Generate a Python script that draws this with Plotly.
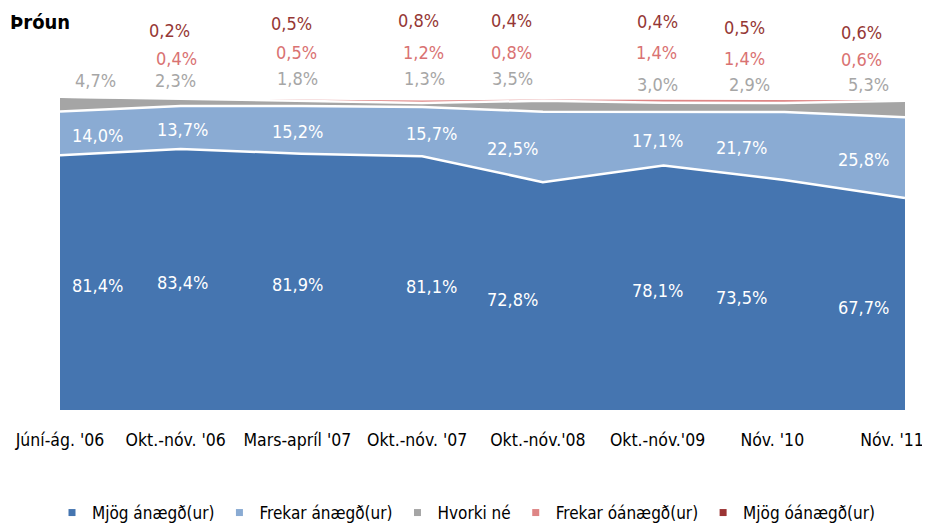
import plotly.graph_objects as go

categories = ["Júní-ág. '06", "Okt.-nóv. '06", "Mars-apríl '07", "Okt.-nóv. '07",
              "Okt.-nóv.'08", "Okt.-nóv.'09", "Nóv. '10", "Nóv. '11"]
mjog_anaegd = [81.4, 83.4, 81.9, 81.1, 72.8, 78.1, 73.5, 67.7]
frekar_anaegd = [14.0, 13.7, 15.2, 15.7, 22.5, 17.1, 21.7, 25.8]
hvorki_ne = [4.7, 2.3, 1.8, 1.3, 3.5, 3.0, 2.9, 5.3]
frekar_oanaegd = [0.0, 0.4, 0.5, 1.2, 0.8, 1.4, 1.4, 0.6]
mjog_oanaegd = [0.0, 0.2, 0.5, 0.8, 0.4, 0.4, 0.5, 0.6]

series = [
    ("Mjög ánægð(ur)", mjog_anaegd, "#4575B0"),
    ("Frekar ánægð(ur)", frekar_anaegd, "#8AABD3"),
    ("Hvorki né", hvorki_ne, "#A5A5A5"),
    ("Frekar óánægð(ur)", frekar_oanaegd, "#DE8585"),
    ("Mjög óánægð(ur)", mjog_oanaegd, "#9B3434"),
]

FONT = "DejaVu Sans Condensed, Liberation Sans Narrow, Arial Narrow, Liberation Sans, sans-serif"
FS = 18
x = list(range(len(categories)))

# label placement tweaks (pixels), per category
inner_xshift = [37, 2, -4, 9, -30, -6, -43, -42]
gray_xshift = [35, -5, -4, 2, -30, -6, -35, -37]
pink_xshift = [0, -4, -5, 1, -31, -7, -40, -44]
red_xshift = [0, -11, -10, -4, -31, -6, -40, -44]
gray_ypx = [80, 80, 79, 79, 79, 84, 84, 84]
pink_ypx = [58, 58, 52, 53, 53, 53, 58, 60]
red_ypx = [30, 30, 23, 21, 20, 22, 27, 32]
tick_shift_px = [0, -5, -4, -5, -5, -6, -12, -13]

PLOT_TOP, PLOT_H, PLOT_L, PLOT_W = 97, 313, 60, 845  # window pixels
PX_PER_CAT = PLOT_W / (len(categories) - 1)

def ypaper(px):
    return 1 + (PLOT_TOP - px) / PLOT_H

def xpaper(px):
    return (px - PLOT_L) / PLOT_W

fig = go.Figure()
for name, vals, col in series:
    fig.add_trace(go.Scatter(
        x=x, y=vals, name=name, mode="lines", stackgroup="one",
        line=dict(color="white", width=2.5), fillcolor=col, showlegend=False,
    ))
for name, vals, col in series:
    fig.add_trace(go.Scatter(
        x=[None], y=[None], name=name, mode="markers",
        marker=dict(symbol="square", size=7, color=col), showlegend=True,
    ))

def fmt(v):
    return f"{v:.1f}".replace(".", ",") + "%"

ann = []
for i in x:
    base = mjog_anaegd[i]
    ann.append(dict(x=i, y=base / 2, text=fmt(mjog_anaegd[i]), xshift=inner_xshift[i],
                    yshift=-3, showarrow=False,
                    font=dict(color="white", size=FS, family=FONT)))
    ann.append(dict(x=i, y=base + frekar_anaegd[i] / 2, text=fmt(frekar_anaegd[i]),
                    xshift=inner_xshift[i], yshift=-2, showarrow=False,
                    font=dict(color="white", size=FS, family=FONT)))
    ann.append(dict(x=i, yref="paper", y=ypaper(gray_ypx[i]), yanchor="middle",
                    text=fmt(hvorki_ne[i]), xshift=gray_xshift[i], showarrow=False,
                    font=dict(color="#A6A6A6", size=FS, family=FONT)))
    if frekar_oanaegd[i] > 0:
        ann.append(dict(x=i, yref="paper", y=ypaper(pink_ypx[i]), yanchor="middle",
                        text=fmt(frekar_oanaegd[i]), xshift=pink_xshift[i],
                        showarrow=False,
                        font=dict(color="#D97272", size=FS, family=FONT)))
    if mjog_oanaegd[i] > 0:
        ann.append(dict(x=i, yref="paper", y=ypaper(red_ypx[i]), yanchor="middle",
                        text=fmt(mjog_oanaegd[i]), xshift=red_xshift[i],
                        showarrow=False,
                        font=dict(color="#953735", size=FS, family=FONT)))

ann.append(dict(xref="paper", yref="paper", x=xpaper(8), y=ypaper(22), xanchor="left",
                yanchor="middle", text="<b>Þróun</b>", showarrow=False,
                font=dict(color="black", size=20, family=FONT)))

tickvals = [i + s / PX_PER_CAT for i, s in zip(x, tick_shift_px)]

# page body has an 8px margin, so figure margins are shifted by 8px
fig.update_layout(
    width=930, height=523,
    margin=dict(l=52, r=33, t=89, b=121, autoexpand=False),
    paper_bgcolor="white", plot_bgcolor="white",
    font=dict(family=FONT, size=FS, color="black"),
    xaxis=dict(range=[0, 7], tickmode="array", tickvals=tickvals, ticktext=categories,
               showgrid=False, zeroline=False, showline=False,
               ticks="outside", ticklen=14, tickcolor="rgba(0,0,0,0)",
               ticklabeloverflow="allow",
               tickfont=dict(size=17.5, family=FONT, color="black")),
    yaxis=dict(range=[0, 100], visible=False),
    showlegend=True,
    legend=dict(orientation="h", x=xpaper(52), xanchor="left", y=ypaper(513),
                yanchor="middle",
                font=dict(size=17, family=FONT, color="black"),
                itemwidth=30, traceorder="normal"),
    annotations=ann,
)

fig.write_html("out.html")
